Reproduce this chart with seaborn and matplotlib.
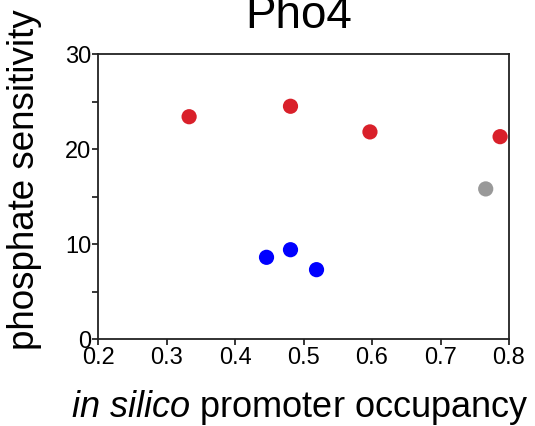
import matplotlib
matplotlib.use("Agg")
import matplotlib.pyplot as plt
from matplotlib.ticker import MultipleLocator
import pandas as pd
import seaborn as sns

# Pho4 target promoters: predicted occupancy vs. phosphate sensitivity
occupancy = [0.333, 0.481, 0.597, 0.787, 0.766, 0.446, 0.481, 0.519]
sensitivity = [23.4, 24.5, 21.8, 21.3, 15.8, 8.6, 9.4, 7.3]
group = ["high", "high", "high", "high", "mid", "low", "low", "low"]
group_colors = {"high": "#D9202A", "mid": "#999999", "low": "#0000FF"}

df = pd.DataFrame({"occupancy": occupancy, "sensitivity": sensitivity, "group": group})

sns.set_style("white")
plt.rcParams["font.family"] = ["Liberation Sans", "DejaVu Sans"]
plt.rcParams["mathtext.fontset"] = "custom"
plt.rcParams["mathtext.rm"] = "Liberation Sans"
plt.rcParams["mathtext.it"] = "Liberation Sans:italic"
plt.rcParams["text.color"] = "black"
plt.rcParams["axes.labelcolor"] = "black"

fig = plt.figure(figsize=(5.35, 4.26), dpi=100)
ax = fig.add_axes([0.1832, 0.2042, 0.9514 - 0.1832, 0.8732 - 0.2042])

sns.scatterplot(data=df, x="occupancy", y="sensitivity", hue="group",
                palette=group_colors, s=120, linewidth=0, legend=False, ax=ax)

ax.set_xlim(0.2, 0.8)
ax.set_ylim(0, 30)
ax.xaxis.set_major_locator(MultipleLocator(0.1))
ax.yaxis.set_major_locator(MultipleLocator(10))
ax.yaxis.set_minor_locator(MultipleLocator(5))
ax.set_xticklabels([f"{v:.1f}" for v in ax.get_xticks()])

for side in ["left", "right", "top", "bottom"]:
    ax.spines[side].set_color("#222222")
    ax.spines[side].set_linewidth(1.3)

ax.tick_params(axis="both", which="major", direction="out", length=4, width=1.1,
               color="black", labelcolor="black", labelsize=17,
               left=True, bottom=True)
ax.tick_params(axis="x", which="major", pad=2)
ax.tick_params(axis="y", which="major", pad=1)
ax.tick_params(axis="y", which="minor", direction="out", length=4, width=1.1,
               color="black", left=True)

ax.set_xlabel("$\\it{in\\ silico}$ promoter occupancy", fontsize=26)
ax.xaxis.set_label_coords(0.4915, -0.172)
ax.set_ylabel("phosphate sensitivity", fontsize=26.5)
ax.yaxis.set_label_coords(-0.136, 0.558)
ax.set_title("Pho4", fontsize=33, pad=19, x=0.488)

fig.savefig("out.png", dpi=100)
